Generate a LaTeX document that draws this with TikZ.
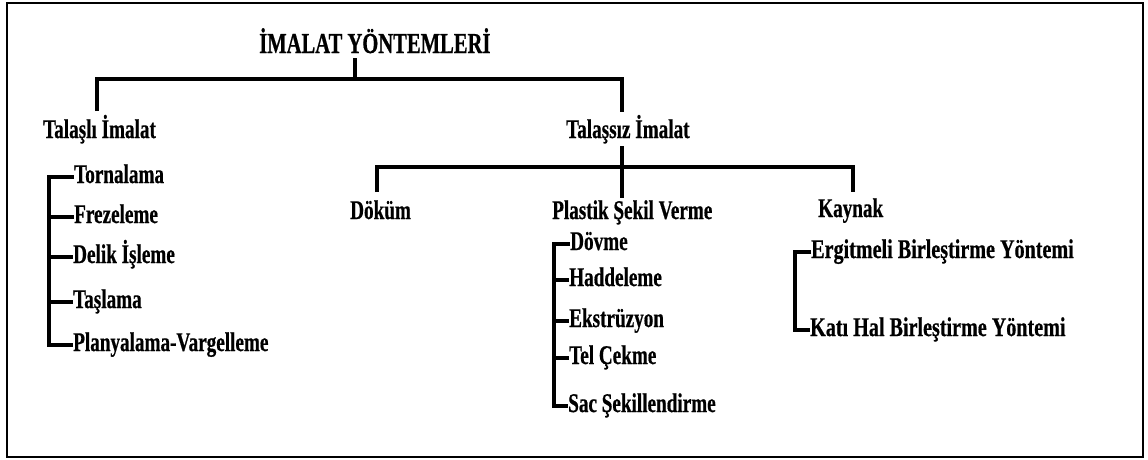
\documentclass[tikz,border=0pt]{standalone}
\usepackage{fontspec}
\newfontfamily\diafont{Liberation Serif}[FakeStretch=0.71, FakeBold=0.6]
\newfontfamily\widefont{Liberation Serif}[FakeStretch=0.745, FakeBold=0.6]
\begin{document}
\begin{tikzpicture}[x=1pt,y=-1pt,
  txt/.style={font=\diafont\bfseries\fontsize{27}{30}\selectfont, inner sep=0pt, text=black},
  head/.style={txt, anchor=base west},
  item/.style={txt, anchor=west, text height=18pt, text depth=6pt},
  wide/.style={font=\widefont\bfseries\fontsize{27}{30}\selectfont},
  conn/.style={line width=3.4pt, black, line join=miter, line cap=butt}]
\useasboundingbox (0,0) rectangle (1148,459);
\draw[line width=2.8pt] (7,3) rectangle (1143,457);

% headings
\node[head, font=\diafont\bfseries\fontsize{29}{32}\selectfont] (title) at (259,53) {İMALAT YÖNTEMLERİ};
\node[head] (talasli)  at (43,138)  {Talaşlı İmalat};
\node[head] (talassiz) at (566,138) {Talaşsız İmalat};
\node[head] (dokum)    at (350,219) {Döküm};
\node[head] (plastik)  at (552,219) {Plastik Şekil Verme};
\node[head] (kaynak)   at (818,217) {Kaynak};

% junctions
\coordinate (j0) at (355,79);
\coordinate (a1) at (97,79);
\coordinate (a2) at (622,79);
\coordinate (talasli-in) at (97,111);
\coordinate (talassiz-in) at (622,112);
\coordinate (title-out) at (355,58);
\coordinate (talassiz-out) at (622,146);
\coordinate (b0) at (622,167);
\coordinate (b1) at (377,167);
\coordinate (b3) at (853,167);
\coordinate (dokum-in) at (377,192);
\coordinate (plastik-in) at (622,198);
\coordinate (kaynak-in) at (853,192);

\draw[conn] (title-out) -- (j0);
\draw[conn] (talasli-in) -- (a1) -- (a2) -- (talassiz-in);
\draw[conn] (talassiz-out) -- (plastik-in);
\draw[conn] (dokum-in) -- (b1) -- (b3) -- (kaynak-in);

% Talaşlı list
\node[item] (tor) at (74,177) {Tornalama};
\node[item] (fre) at (74,217) {Frezeleme};
\node[item] (del) at (73,257) {Delik İşleme};
\node[item] (tas) at (73,302) {Taşlama};
\node[item] (pla) at (73,345) {Planyalama-Vargelleme};
\coordinate (l1) at (49,177);
\coordinate (l2) at (49,217);
\coordinate (l3) at (49,257);
\coordinate (l4) at (49,302);
\coordinate (l5) at (49,345);
\draw[conn] (tor.west) -- (l1) -- (l5) -- (pla.west);
\draw[conn] (l2) -- (fre.west);
\draw[conn] (l3) -- (del.west);
\draw[conn] (l4) -- (tas.west);

% Plastik list
\node[item] (dov) at (570,244) {Dövme};
\node[item] (had) at (569,280) {Haddeleme};
\node[item] (eks) at (569,321) {Ekstrüzyon};
\node[item] (tel) at (569,358) {Tel Çekme};
\node[item] (sac) at (568,406) {Sac Şekillendirme};
\coordinate (p1) at (554,244);
\coordinate (p2) at (554,280);
\coordinate (p3) at (554,321);
\coordinate (p4) at (554,358);
\coordinate (p5) at (554,406);
\draw[conn] (dov.west) -- (p1) -- (p5) -- (sac.west);
\draw[conn] (p2) -- (had.west);
\draw[conn] (p3) -- (eks.west);
\draw[conn] (p4) -- (tel.west);

% Kaynak list
\node[item, wide] (erg) at (811,252) {Ergitmeli Birleştirme Yöntemi};
\node[item, wide] (kat) at (810,330) {Katı Hal Birleştirme Yöntemi};
\coordinate (k1) at (795,252);
\coordinate (k2) at (795,330);
\draw[conn] (erg.west) -- (k1) -- (k2) -- (kat.west);
\end{tikzpicture}
\end{document}
